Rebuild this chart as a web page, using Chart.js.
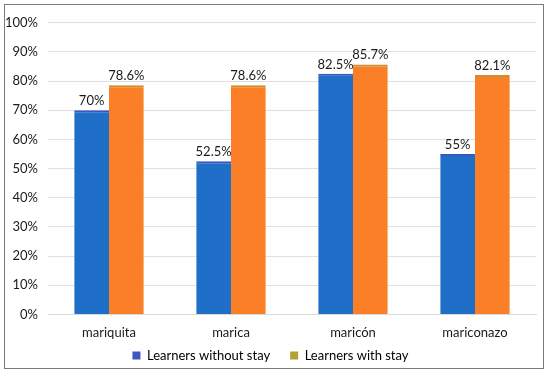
<!DOCTYPE html>
<html>
<head>
<meta charset="utf-8">
<script src="https://cdn.jsdelivr.net/npm/chart.js@4"></script>
<style>
  html, body { margin: 0; padding: 0; background: #fff; }
  #box { position: absolute; left: 4px; top: 4px; width: 538px; height: 363px; border: 1px solid #7a7a7a; }
  #chart { display: block; }
</style>
</head>
<body>
<div id="box"><canvas id="chart" width="538" height="363"></canvas></div>
<script>
let categories = ["mariquita", "marica", "maricón", "mariconazo"];
let without_stay = [70, 52.5, 82.5, 55];
let with_stay = [78.6, 78.6, 85.7, 82.1];
let series_names = ["Learners without stay", "Learners with stay"];
let legend_colors = ["#3f56c0", "#b5a032"];
let font_family = "Lato, 'Open Sans', sans-serif";

// draws the value above each bar
const valueLabels = {
  id: "valueLabels",
  afterDatasetsDraw(chart) {
    let ctx = chart.ctx;
    ctx.save();
    ctx.font = "13px " + font_family;
    ctx.fillStyle = "#1a1a1a";
    ctx.textAlign = "center";
    ctx.textBaseline = "bottom";
    chart.data.datasets.forEach((ds, i) => {
      chart.getDatasetMeta(i).data.forEach((bar, j) => {
        ctx.fillText(ds.data[j] + "%", bar.x, bar.y - 3);
      });
    });
    ctx.restore();
  }
};

// legend padding is wide for the item gap, pull the row back up under the axis
const legendLift = {
  id: "legendLift",
  afterLayout(chart) {
    chart.legend.top -= 23;
    chart.legend.height += 23;
  }
};

let ctx = document.getElementById("chart");
let chart = new Chart(ctx, {
  type: "bar",
  data: {
    labels: categories,
    datasets: [{
      label: series_names[0],
      data: without_stay,
      backgroundColor: "#1f6fc9",
      borderColor: "#3d55c0",
      borderWidth: { top: 2 },
      borderSkipped: "bottom"
    }, {
      label: series_names[1],
      data: with_stay,
      backgroundColor: "#fb7f26",
      borderColor: "#c8902e",
      borderWidth: { top: 2 },
      borderSkipped: "bottom"
    }]
  },
  options: {
    responsive: false,
    animation: false,
    events: [],
    layout: { padding: { top: 0, right: 7, left: 0, bottom: 0 } },
    datasets: {
      bar: { categoryPercentage: 0.57, barPercentage: 1.0 }
    },
    plugins: {
      tooltip: { enabled: false },
      legend: {
        position: "bottom",
        maxHeight: 16,
        labels: {
          font: { size: 13, family: font_family },
          color: "#1a1a1a",
          boxWidth: 8,
          boxHeight: 8,
          padding: 20
        },
        onClick: null
      }
    },
    scales: {
      x: {
        grid: { display: false, drawTicks: false },
        border: { color: "#d9d9d9" },
        ticks: { color: "#1a1a1a", padding: 11, font: { size: 13, family: font_family } }
      },
      y: {
        min: 0,
        max: 100,
        grid: { color: "#e0e0e0", drawTicks: false },
        border: { display: false },
        ticks: {
          stepSize: 10,
          color: "#1a1a1a",
          padding: 10,
          font: { size: 13, family: font_family },
          callback: v => v + "%"
        },
        afterFit: s => { s.width = 43; }
      }
    }
  },
  plugins: [valueLabels, legendLift]
});
// legend swatches use their own colours
chart.options.plugins.legend.labels.generateLabels = c => c.data.datasets.map((ds, i) => ({
  text: ds.label,
  fillStyle: legend_colors[i],
  strokeStyle: legend_colors[i],
  lineWidth: 0,
  datasetIndex: i
}));
chart.update();
</script>
</body>
</html>
